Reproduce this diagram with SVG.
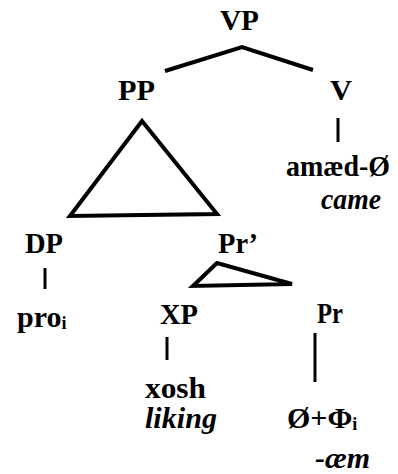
<svg xmlns="http://www.w3.org/2000/svg" width="398" height="474" viewBox="0 0 398 474">
<style>
text{font-family:"Liberation Serif","Times New Roman",serif;font-weight:bold;font-size:30px;fill:#000}
.it{font-style:italic}
.sub{font-size:18px}
.e{fill:none;stroke:#000;stroke-width:4;stroke-linejoin:miter;stroke-linecap:butt}
.v{stroke:#000;stroke-width:3}
</style>
<rect width="398" height="474" fill="#fff"/>
<g id="connectors">
<polyline class="e" points="165,71 242,47 313,70"/>
<polygon class="e" points="142,121 70,216 217,214"/>
<polygon class="e" points="217,263 193,286 292,284"/>
<line class="v" x1="338" y1="118" x2="338" y2="142"/>
<line class="v" x1="45" y1="268" x2="45" y2="289"/>
<line class="v" x1="167" y1="337" x2="167" y2="360"/>
<line class="v" x1="315" y1="333" x2="315" y2="382"/>
</g>
<g id="VP"><text x="220" y="30" textLength="39" lengthAdjust="spacingAndGlyphs">VP</text></g>
<g id="PP"><text x="118" y="100" textLength="37" lengthAdjust="spacingAndGlyphs">PP</text></g>
<g id="V"><text x="330" y="100" textLength="22" lengthAdjust="spacingAndGlyphs">V</text></g>
<g id="amaed"><text x="286" y="176" textLength="104" lengthAdjust="spacingAndGlyphs">amæd-Ø</text><text class="it" x="321" y="209" textLength="60" lengthAdjust="spacingAndGlyphs">came</text></g>
<g id="DP"><text x="25" y="253" textLength="38" lengthAdjust="spacingAndGlyphs">DP</text></g>
<g id="Prbar"><text x="218" y="253" textLength="40" lengthAdjust="spacingAndGlyphs">Pr’</text></g>
<g id="pro"><text x="17" y="327">pro<tspan class="sub" dy="2">i</tspan></text></g>
<g id="XP"><text x="160" y="324" textLength="38" lengthAdjust="spacingAndGlyphs">XP</text></g>
<g id="Pr"><text x="317" y="323" textLength="26" lengthAdjust="spacingAndGlyphs">Pr</text></g>
<g id="xosh"><text x="145" y="398" textLength="61" lengthAdjust="spacingAndGlyphs">xosh</text><text class="it" x="145" y="428" textLength="72" lengthAdjust="spacingAndGlyphs">liking</text></g>
<g id="phi"><text x="287" y="428">Ø+Φ<tspan class="sub" dy="2">i</tspan></text><text class="it" x="315" y="468" textLength="55" lengthAdjust="spacingAndGlyphs">-æm</text></g>
</svg>
